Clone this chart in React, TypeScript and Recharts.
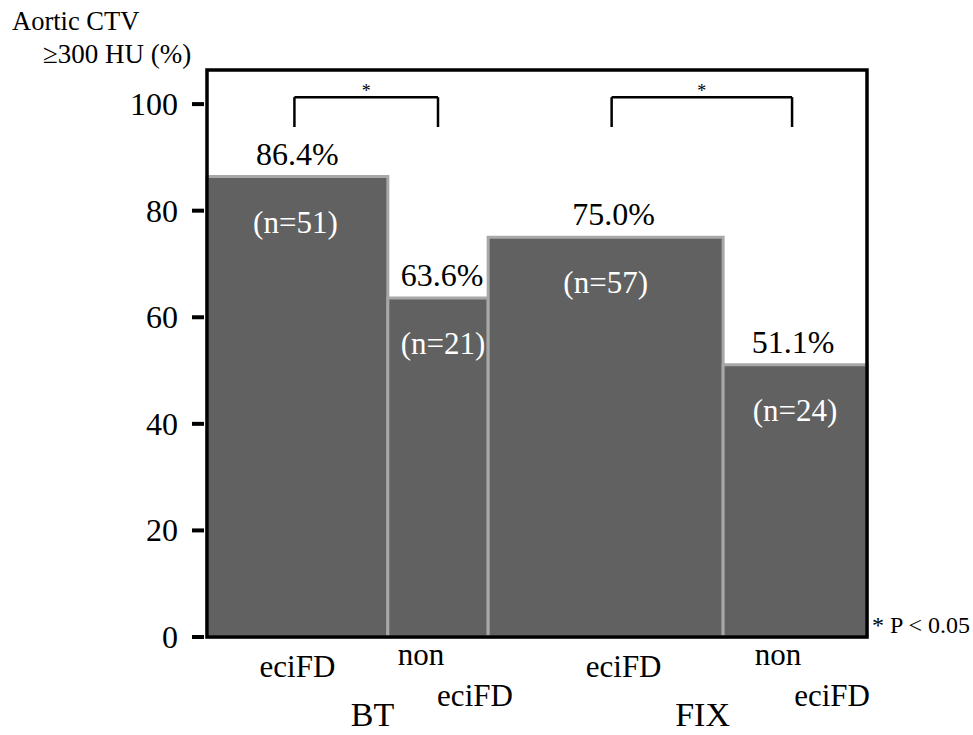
import React from "react";
import {
  ComposedChart,
  ReferenceArea,
  ReferenceLine,
  Scatter,
  XAxis,
  YAxis,
} from "recharts";

const groups = ["BT", "FIX"];
const barGroup = [0, 0, 1, 1];
const categories = [["eciFD"], ["non", "eciFD"], ["eciFD"], ["non", "eciFD"]];
const rates = [86.4, 63.6, 75.0, 51.1];
const counts = [51, 21, 57, 24];
// share of the x-axis each bar takes (bars are drawn with varying width)
const widthShare = [27.4, 15.2, 35.6, 21.8];
const yTicks = [0, 20, 40, 60, 80, 100];
const significantPairs = [
  [0, 1],
  [2, 3],
];

const SERIF = "Liberation Serif";
const Y_MAX = 106.4;
const BRACKET_TOP = 101.3;
const BRACKET_FOOT = 95.7;
const PX = 100 / 660; // x-axis units per pixel, for small nudges

const starts = widthShare.map((_, i) =>
  widthShare.slice(0, i).reduce((a, b) => a + b, 0)
);
const bars = rates.map((rate, i) => ({
  idx: i,
  x0: starts[i],
  x1: starts[i] + widthShare[i],
  mid: starts[i] + widthShare[i] / 2,
  rate,
  n: counts[i],
}));
const groupMids = groups.map((_, g) => {
  const own = bars.filter((b) => barGroup[b.idx] === g);
  return (own[0].x0 + own[own.length - 1].x1) / 2;
});
const xTicks = [...bars.map((b) => b.mid), ...groupMids].sort((a, b) => a - b);

// small nudges to follow the original figure's hand placement
const pctNudge = [0, 4, 8, -2];
const nNudge = [-2, 5, 0, 0];
const catNudge = [0, 0, 18, 0];
const legNudge = [-3, 0, 6, -3];

function T(props: any) {
  const { size, color = "#000", children, ...rest } = props;
  return (
    <text
      {...rest}
      fontSize={size}
      fill={color}
      fontFamily={SERIF}
      style={{ fontFamily: SERIF, fontSize: size }}
    >
      {children}
    </text>
  );
}

function YTick(props: any) {
  const { x, y, payload } = props;
  return (
    <g>
      <line x1={x - 15} x2={x - 3} y1={y} y2={y} stroke="#000" strokeWidth={4} />
      <T x={x - 29} y={y + 11} textAnchor="end" size={32}>
        {payload.value}
      </T>
    </g>
  );
}

function XTick(props: any) {
  const { x, y, payload } = props;
  const g = groupMids.indexOf(payload.value);
  if (g >= 0) {
    return (
      <T x={x + 25} y={y + 89} textAnchor="middle" size={34}>
        {groups[g]}
      </T>
    );
  }
  const i = bars.findIndex((b) => b.mid === payload.value);
  if (i < 0) return null;
  const lines = categories[i];
  if (lines.length === 1) {
    return (
      <T x={x + catNudge[i]} y={y + 40} textAnchor="middle" size={31}>
        {lines[0]}
      </T>
    );
  }
  return (
    <g>
      <T x={x - 17} y={y + 28} textAnchor="middle" size={31}>
        {lines[0]}
      </T>
      <T x={x + 37} y={y + 69} textAnchor="middle" size={31}>
        {lines[1]}
      </T>
    </g>
  );
}

function BarText(props: any) {
  const { cx, cy, payload } = props;
  const i = payload.idx;
  return (
    <g>
      <T x={cx + pctNudge[i]} y={cy - 12} textAnchor="middle" size={32}>
        {payload.rate.toFixed(1)}%
      </T>
      <T x={cx + nNudge[i]} y={cy + 56} textAnchor="middle" size={31} color="#fff">
        (n={payload.n})
      </T>
    </g>
  );
}

export default function App() {
  return (
    <div
      style={{
        position: "absolute",
        left: 0,
        top: 0,
        width: 973,
        height: 735,
        background: "#fff",
        fontFamily: SERIF,
      }}
    >
      <ComposedChart
        width={973}
        height={735}
        data={bars}
        margin={{ top: 70, right: 106, bottom: 0, left: 0 }}
      >
        <XAxis
          type="number"
          dataKey="mid"
          domain={[0, 100]}
          ticks={xTicks}
          interval={0}
          allowDataOverflow
          axisLine={false}
          tickLine={false}
          tickSize={0}
          tickMargin={0}
          height={98}
          tick={<XTick />}
        />
        <YAxis
          type="number"
          dataKey="rate"
          domain={[0, Y_MAX]}
          ticks={yTicks}
          interval={0}
          allowDataOverflow
          axisLine={false}
          tickLine={false}
          tickSize={0}
          tickMargin={0}
          width={207}
          tick={<YTick />}
        />
        {bars.map((b) => (
          <ReferenceArea
            key={b.idx}
            x1={b.x0}
            x2={b.x1}
            y1={0}
            y2={b.rate}
            fill="#616161"
            fillOpacity={1}
            stroke="#a8a8a8"
            strokeWidth={3}
          />
        ))}
        <ReferenceArea
          x1={0}
          x2={100}
          y1={0}
          y2={Y_MAX}
          fill="none"
          stroke="#000"
          strokeWidth={3.5}
        />
        {significantPairs.map(([a, b]) => {
          const xa = bars[a].mid + legNudge[a] * PX;
          const xb = bars[b].mid + legNudge[b] * PX;
          return [
            <ReferenceLine
              key={`l${a}`}
              segment={[
                { x: xa, y: BRACKET_FOOT },
                { x: xa, y: BRACKET_TOP },
              ]}
              stroke="#000"
              strokeWidth={2.5}
            />,
            <ReferenceLine
              key={`t${a}`}
              segment={[
                { x: xa, y: BRACKET_TOP },
                { x: xb, y: BRACKET_TOP },
              ]}
              stroke="#000"
              strokeWidth={2.5}
              label={{
                value: "*",
                position: "top",
                offset: 0,
                fontSize: 18,
                fill: "#000",
                fontFamily: SERIF,
                style: { fontFamily: SERIF },
              }}
            />,
            <ReferenceLine
              key={`r${a}`}
              segment={[
                { x: xb, y: BRACKET_FOOT },
                { x: xb, y: BRACKET_TOP },
              ]}
              stroke="#000"
              strokeWidth={2.5}
            />,
          ];
        })}
        <Scatter data={bars} dataKey="rate" shape={<BarText />} isAnimationActive={false} />
      </ComposedChart>
      <svg
        width={973}
        height={735}
        style={{ position: "absolute", left: 0, top: 0, pointerEvents: "none" }}
      >
        <T x={12} y={30} size={26.5}>
          Aortic CTV
        </T>
        <T x={43} y={63} size={27}>
          ≥300 HU (%)
        </T>
        <T x={872} y={633} size={24}>
          * P &lt; 0.05
        </T>
      </svg>
    </div>
  );
}
